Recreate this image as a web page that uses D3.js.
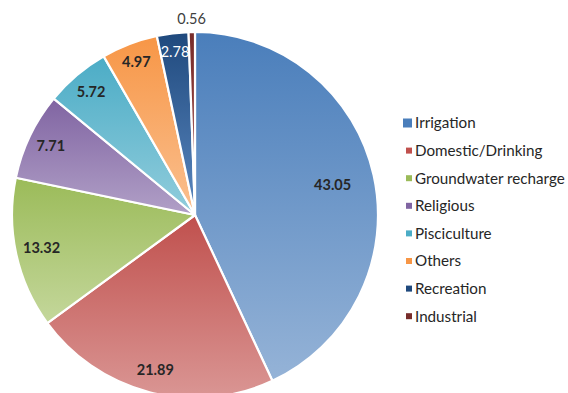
<!DOCTYPE html>
<html><head><meta charset="utf-8">
<script src="https://cdn.jsdelivr.net/npm/d3@7/dist/d3.min.js"></script>
<style>
html,body{margin:0;padding:0;background:#fff;}
svg{display:block;font-family:"Lato","Open Sans",sans-serif;}
</style></head>
<body>
<svg id="chart" width="568" height="393"></svg>
<script>
const categories = ["Irrigation","Domestic/Drinking","Groundwater recharge","Religious","Pisciculture","Others","Recreation","Industrial"];
const values = [43.05,21.89,13.32,7.71,5.72,4.97,2.78,0.56];
const topColors = ["#4a7ebb","#c0504d","#9bbb59","#8064a2","#4bacc6","#f79646","#1f497d","#772c2a"];
const bottomColors = ["#95b3d7","#da9694","#c4d79b","#b1a0c7","#92cddc","#fac090","#5b88c0","#a5504d"];

const svg = d3.select("#chart");
const cx = 195, cy = 215, R = 183;
const defs = svg.append("defs");
const pie = d3.pie().sort(null).value(d => d)(values);
const arc = d3.arc().innerRadius(0).outerRadius(R);

const g = svg.append("g").attr("transform", `translate(${cx},${cy})`);

pie.forEach((p, i) => {
  const pts = [[0,0]];
  const n = 40;
  for (let k = 0; k <= n; k++) {
    const a = p.startAngle + (p.endAngle - p.startAngle) * k / n;
    pts.push([R * Math.sin(a), -R * Math.cos(a)]);
  }
  const ys = pts.map(q => q[1]);
  const y0 = d3.min(ys), y1 = d3.max(ys);
  const gr = defs.append("linearGradient").attr("id", "grad" + i)
    .attr("gradientUnits", "userSpaceOnUse")
    .attr("x1", 0).attr("x2", 0).attr("y1", y0).attr("y2", y1);
  gr.append("stop").attr("offset", 0).attr("stop-color", topColors[i]);
  gr.append("stop").attr("offset", 1).attr("stop-color", bottomColors[i]);
  g.append("path").attr("d", arc(p)).attr("fill", `url(#grad${i})`)
    .attr("stroke", "#fff").attr("stroke-width", 2.2).attr("stroke-linejoin", "round");
});

// labels
const labelR = [141,160,157,160,161,164,164,196];
pie.forEach((p, i) => {
  const a = (p.startAngle + p.endAngle) / 2;
  const r = labelR[i];
  const x = r * Math.sin(a), y = -r * Math.cos(a);
  const small = i >= 6;
  g.append("text").attr("x", x).attr("y", y).attr("dy", "0.35em")
    .attr("text-anchor", "middle")
    .attr("font-size", 14.5)
    .attr("font-weight", small ? "normal" : "bold")
    .attr("fill", i === 6 ? "#ffffff" : (i === 7 ? "#404040" : "#262626"))
    .text(values[i].toFixed(2));
});

// legend
const lg = svg.append("g").attr("transform", "translate(403,123)");
categories.forEach((c, i) => {
  const row = lg.append("g").attr("transform", `translate(0,${i * 27.6})`);
  const s = i === 0 ? 9 : 6;
  row.append("rect").attr("x", i === 0 ? 0 : 3).attr("y", -s / 2).attr("width", s).attr("height", s)
    .attr("fill", topColors[i]);
  row.append("text").attr("x", 12).attr("y", 0).attr("dy", "0.35em")
    .attr("font-size", 15.2).attr("fill", "#262626").text(c);
});
</script>
</body></html>
